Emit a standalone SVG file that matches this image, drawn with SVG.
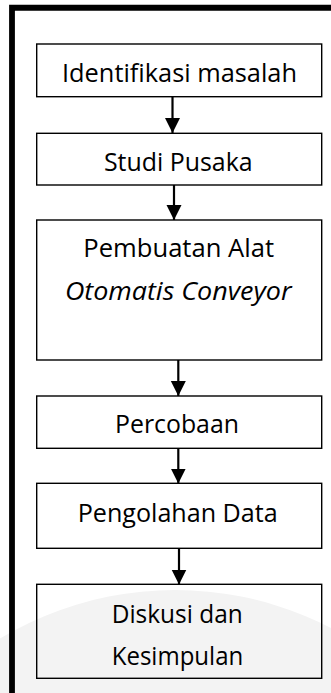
<svg xmlns="http://www.w3.org/2000/svg" width="331" height="693" viewBox="0 0 331 693">
<style>
.box{fill:none;stroke:#000;stroke-width:1.4}
.t{font-family:"Open Sans","Noto Sans","Liberation Sans",sans-serif;font-size:25px;fill:#000;text-anchor:middle}
.i{font-style:italic}
.c{stroke:#000;stroke-width:2.2;fill:none;marker-end:url(#ah)}
</style>
<defs>
<marker id="ah" markerUnits="userSpaceOnUse" markerWidth="16" markerHeight="17" refX="15" refY="7.5" orient="auto">
<path d="M0,0 L15,7.5 L0,15 Z" fill="#000"/>
</marker>
</defs>
<rect width="331" height="693" fill="#fff"/>
<circle cx="175" cy="930" r="340" fill="#f3f3f3"/>
<path d="M12,700 L12,7.75 L340,7.75" fill="none" stroke="#000" stroke-width="5.8"/>
<g id="connectors">
<line class="c" x1="172.5" y1="97" x2="172.5" y2="133"/>
<line class="c" x1="174" y1="185" x2="174" y2="220"/>
<line class="c" x1="178.3" y1="360" x2="178.3" y2="396"/>
<line class="c" x1="178.3" y1="448" x2="178.3" y2="483.5"/>
<line class="c" x1="179" y1="548.5" x2="179" y2="584.5"/>
</g>
<g id="n1">
<rect class="box" x="36.7" y="44" width="285" height="52.7"/>
<text class="t" x="179.5" y="82" textLength="235" lengthAdjust="spacingAndGlyphs">Identifikasi masalah</text>
</g>
<g id="n2">
<rect class="box" x="36.7" y="133.3" width="285" height="51.7"/>
<text class="t" x="178.3" y="171" textLength="148.7" lengthAdjust="spacingAndGlyphs">Studi Pusaka</text>
</g>
<g id="n3">
<rect class="box" x="36.7" y="220" width="285" height="140"/>
<text class="t" x="178.7" y="256.7" textLength="190.7" lengthAdjust="spacingAndGlyphs">Pembuatan Alat</text>
<text class="t i" x="178.3" y="300" textLength="226.7" lengthAdjust="spacingAndGlyphs">Otomatis Conveyor</text>
</g>
<g id="n4">
<rect class="box" x="36.7" y="396" width="285" height="52.3"/>
<text class="t" x="177" y="433.3" textLength="124" lengthAdjust="spacingAndGlyphs">Percobaan</text>
</g>
<g id="n5">
<rect class="box" x="36.7" y="483.3" width="285" height="65"/>
<text class="t" x="177.7" y="521.7" textLength="200" lengthAdjust="spacingAndGlyphs">Pengolahan Data</text>
</g>
<g id="n6">
<rect class="box" x="36.7" y="584.3" width="285" height="94"/>
<text class="t" x="177.2" y="623.3" textLength="131" lengthAdjust="spacingAndGlyphs">Diskusi dan</text>
<text class="t" x="177.5" y="664.5" textLength="131.6" lengthAdjust="spacingAndGlyphs">Kesimpulan</text>
</g>
</svg>
